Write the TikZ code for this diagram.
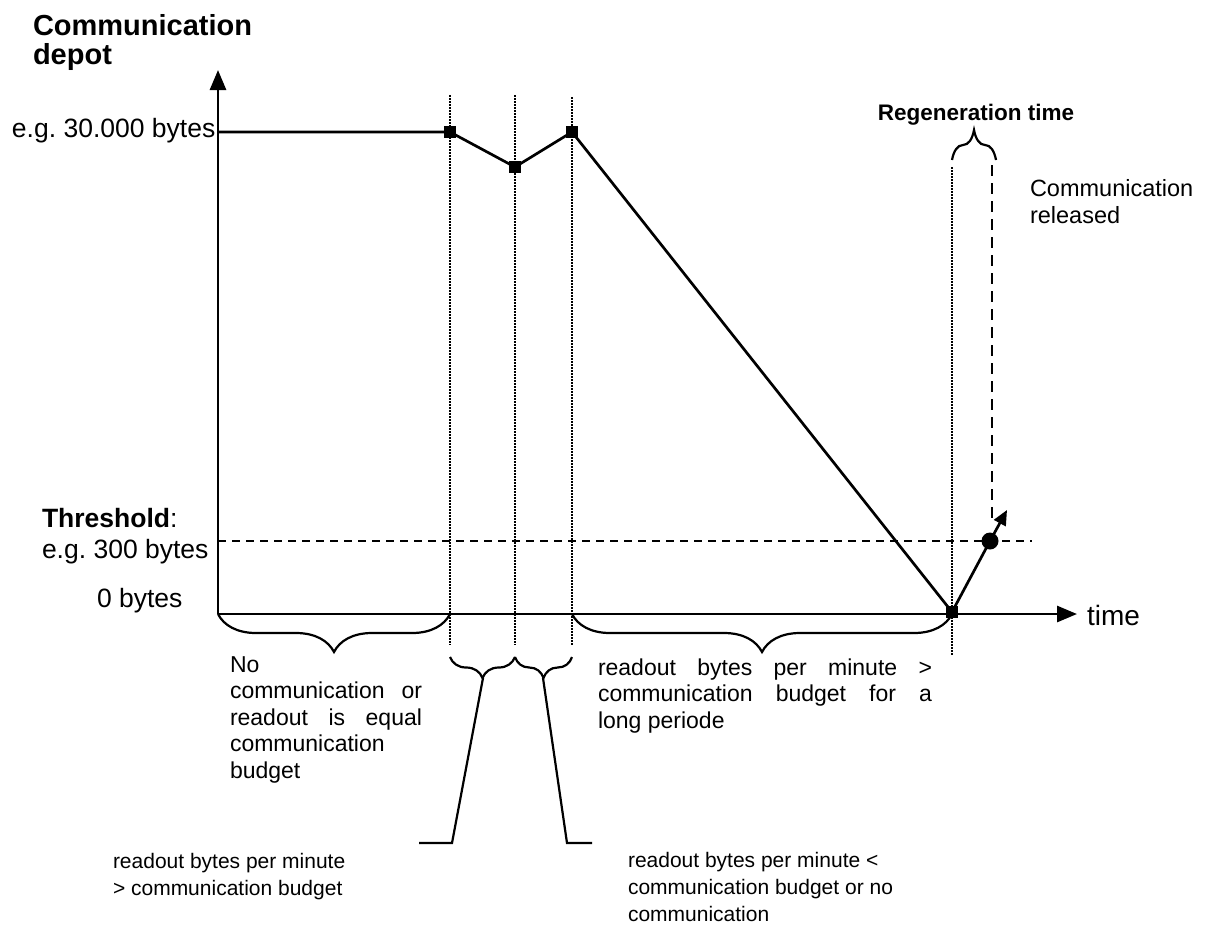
\documentclass[tikz,border=0pt]{standalone}
\usepackage{fontspec}
\setmainfont{Liberation Sans}
\usetikzlibrary{arrows.meta,decorations.pathreplacing}
\frenchspacing
\begin{document}
\begin{tikzpicture}[x=1pt,y=-1pt,
  axisline/.style={line width=2.8pt,-{Triangle[length=20pt,width=16pt]}},
  graphline/.style={line width=2.7pt},
  guide/.style={line width=1.5pt, dash pattern=on 1.5pt off 1.5pt},
  thresh/.style={line width=1.8pt, dash pattern=on 8pt off 6pt},
  release/.style={line width=2.5pt, dash pattern=on 11pt off 7pt},
  sqmark/.style={rectangle, fill=black, minimum size=12.5pt, inner sep=0pt},
  dotmark/.style={circle, fill=black, minimum size=17pt, inner sep=0pt},
  bracebelow/.style={line width=2.2pt, decorate, decoration={brace, mirror, amplitude=#1}},
  braceabove/.style={line width=2.2pt, decorate, decoration={brace, amplitude=#1}},
  callout/.style={line width=2.2pt},
  lbl/.style={inner sep=0pt, outer sep=0pt, anchor=base west, align=left},
  bigfont/.style={font=\fontsize{26.5}{29}\selectfont},
  midfont/.style={font=\fontsize{23}{26.5}\selectfont},
  smallfont/.style={font=\fontsize{21}{26.7}\selectfont},
]
\fill[white] (0,0) rectangle (1206,927);
\useasboundingbox (0,0) rectangle (1206,927);

% axes
\coordinate (O) at (218,614);
\coordinate (ytip) at (218,70);
\coordinate (xtip) at (1077,614);
\draw[axisline] (O) -- (ytip);
\draw[axisline] (O) -- (xtip);

% dotted guides
\coordinate (g1a) at (450,95);  \coordinate (g1b) at (450,645);
\coordinate (g2a) at (515,95);  \coordinate (g2b) at (515,645);
\coordinate (g3a) at (572,97);  \coordinate (g3b) at (572,645);
\coordinate (g4a) at (952,167); \coordinate (g4b) at (952,655);
\draw[guide] (g1a) -- (g1b);
\draw[guide] (g2a) -- (g2b);
\draw[guide] (g3a) -- (g3b);
\draw[guide] (g4a) -- (g4b);

% threshold
\coordinate (th1) at (218,541);
\coordinate (th2) at (1032,541);
\draw[thresh] (th1) -- (th2);

% released dashed line
\coordinate (r1) at (992,165);
\coordinate (r2) at (992,523);
\draw[release] (r1) -- (r2);

% graph
\coordinate (s0) at (218,132);
\node[sqmark] (p1) at (450,132) {};
\node[sqmark] (p2) at (515,167) {};
\node[sqmark] (p3) at (572,132) {};
\node[sqmark] (p4) at (952,612) {};
\node[dotmark] (c) at (990,541) {};
\coordinate (rt) at (1007,510);
\draw[graphline] (s0) -- (p1.center) -- (p2.center) -- (p3.center) -- (p4.center) -- (c.center);
\draw[graphline,-{Triangle[length=15pt,width=13pt]}] (c.center) -- (rt);

% braces
\draw[bracebelow=38pt] (218,614) -- (450,614);
\draw[bracebelow=38pt] (572,614) -- (952,614);
\draw[bracebelow=21pt] (450,657) -- (515,657);
\draw[bracebelow=21pt] (515,657) -- (572,657);
\draw[braceabove=30pt] (952,160) -- (996,160);

% callouts
\coordinate (t1) at (483,678); \coordinate (k1) at (452,843); \coordinate (e1) at (419,843);
\coordinate (t2) at (543,678); \coordinate (k2) at (567,843); \coordinate (e2) at (592,843);
\draw[callout] (t1) -- (k1) -- (e1);
\draw[callout] (t2) -- (k2) -- (e2);

% labels (multi-line nodes: base anchor is the last line)
\node[lbl, font=\fontsize{29}{29}\bfseries\selectfont] (ylab) at (33,64) {Communication\\depot};
\node[lbl, bigfont] (l30k) at (12,137) {e.g. 30.000 bytes};
\node[lbl, bigfont] (lthr) at (42,527) {\textbf{Threshold}:};
\node[lbl, bigfont] (l300) at (42,558) {e.g. 300 bytes};
\node[lbl, bigfont] (l0) at (97,607) {0 bytes};
\node[lbl, font=\fontsize{28}{28}\selectfont] (ltime) at (1087,625) {time};
\node[inner sep=0pt, anchor=base, font=\fontsize{22.5}{22.5}\bfseries\selectfont] (lregen) at (976,120) {Regeneration time};
\node[lbl, font=\fontsize{23.5}{26.5}\selectfont] (lrel) at (1030,223) {Communication\\released};
\node[lbl, midfont] (lnone) at (230,778) {No\\\makebox[192pt][s]{communication or}\\\makebox[192pt][s]{readout is equal}\\communication\\budget};
\node[lbl, midfont] (llong) at (598,728) {\makebox[334pt][s]{readout bytes per minute >}\\\makebox[334pt][s]{communication budget for a}\\long periode};
\node[lbl, smallfont] (lmore) at (113,895) {readout bytes per minute\\> communication budget};
\node[lbl, smallfont] (lless) at (628,921) {readout bytes per minute <\\communication budget or no\\communication};
\end{tikzpicture}
\end{document}
